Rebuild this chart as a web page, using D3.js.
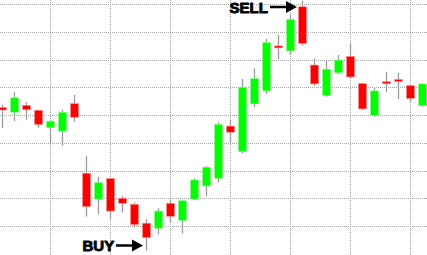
<!DOCTYPE html>
<html>
<head>
<meta charset="utf-8">
<script src="https://cdn.jsdelivr.net/npm/d3@7"></script>
<style>
  html, body { margin: 0; padding: 0; background: #fff; overflow: hidden; }
  svg { display: block; }
  .note { font-family: "Liberation Sans", Arial, sans-serif; font-weight: bold; font-size: 15px; fill: #000; }
</style>
</head>
<body>
<svg id="chart"></svg>
<script>
// candle values (arbitrary price units)
let opens  = [142.7, 141.0, 143.5, 141.7, 135.4, 134.2, 144.1, 119.0, 109.7, 117.1, 110.0, 107.8,
              101.0,  99.2, 108.2, 102.0, 109.7, 114.4, 117.2, 136.0, 126.8, 144.0, 148.7, 164.9,
              163.1, 179.0, 158.0, 147.0, 155.2, 161.1, 151.3, 139.9, 152.0, 152.8, 150.6, 143.5]
let highs  = [143.6, 148.2, 144.6, 141.9, 137.9, 141.9, 147.2, 125.2, 117.8, 117.2, 110.9, 108.5,
              102.5, 106.4, 109.6, 109.5, 117.2, 121.6, 137.4, 138.2, 153.0, 156.8, 167.4, 168.8,
              176.0, 181.1, 160.4, 159.5, 161.6, 165.8, 151.5, 149.7, 155.6, 155.2, 150.8, 151.5]
let lows   = [135.3, 137.8, 138.3, 135.4, 129.8, 128.9, 137.6, 103.4, 104.2, 102.4, 104.8,  99.4,
               91.1,  97.0, 101.4,  97.3, 109.3, 110.8, 115.7, 129.8, 126.2, 142.8, 147.6, 160.2,
              161.6, 165.0, 150.5, 146.6, 154.8, 153.2, 141.8, 139.4, 148.4, 145.7, 144.8, 142.9]
let closes = [141.8, 146.2, 141.9, 136.6, 137.8, 141.0, 139.2, 107.0, 115.6, 105.4, 108.2, 100.5,
               95.8, 105.4, 103.5, 109.1, 116.6, 121.2, 136.6, 133.8, 150.0, 153.1, 166.1, 164.3,
              174.5, 165.8, 151.2, 156.5, 159.8, 153.7, 142.2, 148.7, 151.4, 152.1, 146.0, 151.2]

// price levels of the horizontal grid
let priceTicks = [100, 110, 120, 130, 140, 150, 160, 170, 180]
// candles where the vertical grid lines sit
let gridCandles = [4, 9, 14, 19, 24, 29, 34]

// notes
let sellIndex = 25
let buyIndex = 12

let width = 427
let height = 255

let svg = d3.select('#chart')
    .attr('width', width)
    .attr('height', height)

let candles = opens.map((o, i) => ({
    i: i,
    open: o,
    high: highs[i],
    low: lows[i],
    close: closes[i]
}))

let xScale = d3.scaleBand()
    .domain(candles.map(c => c.i))
    .range([-4, 428])
    .paddingInner(0)

let yScale = d3.scaleLinear()
    .domain([100, 180])
    .range([226, 4])

let cx = (i) => Math.round(xScale(i) + xScale.bandwidth() / 2)

// dotted grid
let grid = svg.append('g')

grid.selectAll('line.h')
    .data(priceTicks)
    .enter()
    .append('line')
    .attr('class', 'h')
    .attr('x1', 0)
    .attr('x2', width)
    .attr('y1', d => Math.round(yScale(d)) + 0.5)
    .attr('y2', d => Math.round(yScale(d)) + 0.5)

grid.selectAll('line.v')
    .data(gridCandles)
    .enter()
    .append('line')
    .attr('class', 'v')
    .attr('x1', d => cx(d) + 0.5)
    .attr('x2', d => cx(d) + 0.5)
    .attr('y1', 0)
    .attr('y2', height)

grid.selectAll('line')
    .attr('stroke', '#a4a4a4')
    .attr('stroke-width', 1)
    .attr('stroke-dasharray', '1,1')

// wicks
svg.append('g')
    .selectAll('line')
    .data(candles)
    .enter()
    .append('line')
    .attr('x1', d => cx(d.i) + 0.5)
    .attr('x2', d => cx(d.i) + 0.5)
    .attr('y1', d => yScale(d.high))
    .attr('y2', d => yScale(d.low))
    .attr('stroke', '#9a9a9a')
    .attr('stroke-width', 1.3)

// bodies
svg.append('g')
    .selectAll('rect')
    .data(candles)
    .enter()
    .append('rect')
    .attr('x', d => cx(d.i) - 3.5)
    .attr('width', 8)
    .attr('y', d => yScale(Math.max(d.open, d.close)))
    .attr('height', d => Math.max(2, Math.abs(yScale(d.open) - yScale(d.close))))
    .attr('fill', d => d.close >= d.open ? '#00ff00' : '#ff0000')
    .attr('stroke', d => d.close >= d.open ? '#8cff8c' : '#ff8c8c')
    .attr('stroke-width', 0.6)

// arrows with labels
let drawNote = (label, tipX, y, textX) => {
    let g = svg.append('g')
    g.append('text')
        .attr('class', 'note')
        .attr('x', textX)
        .attr('y', y + 5.5)
        .attr('stroke', '#000')
        .attr('stroke-width', 0.9)
        .attr('stroke-linejoin', 'round')
        .text(label)
    g.append('line')
        .attr('x1', tipX - 27)
        .attr('x2', tipX - 8)
        .attr('y1', y)
        .attr('y2', y)
        .attr('stroke', '#000')
        .attr('stroke-width', 2.5)
    g.append('path')
        .attr('d', 'M' + tipX + ',' + y + ' L' + (tipX - 11) + ',' + (y - 6) + ' L' + (tipX - 11) + ',' + (y + 6) + ' Z')
        .attr('fill', '#000')
}

drawNote('SELL', cx(sellIndex) - 5, 7, 229.5)
drawNote('BUY', cx(buyIndex) - 3, 245.5, 82.5)
</script>
</body>
</html>
